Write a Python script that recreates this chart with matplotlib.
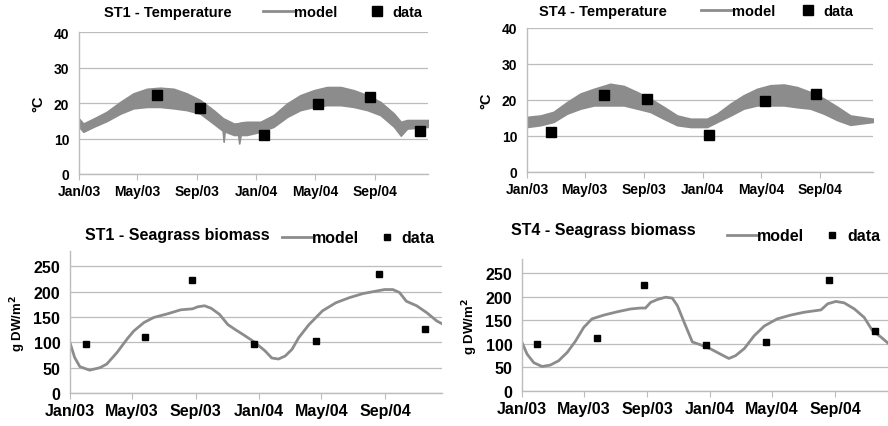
import numpy as np
import pandas as pd
import matplotlib
matplotlib.use('Agg')
import matplotlib.pyplot as plt
import matplotlib.dates as mdates
from matplotlib.lines import Line2D

plt.rcParams['font.family'] = ['Liberation Sans', 'DejaVu Sans']
plt.rcParams['font.weight'] = 'bold'

START = pd.Timestamp('2003-01-01')
END = pd.Timestamp('2004-12-20')
TICKS = ['2003-01-01', '2003-05-01', '2003-09-01', '2004-01-01', '2004-05-01', '2004-09-01']

# --- temperature model, daily band (days since 2003-01-01, lower / upper envelope, degC)
st1_temp_days = [0, 9, 30, 57, 85, 112, 140, 167, 195, 222, 250, 277, 296, 298, 300, 319,
                 328, 330, 333, 346, 374, 401, 429, 456, 484, 511, 539, 566, 594, 621, 649,
                 663, 676, 720]
st1_temp_low = [13.3, 11.9, 13.3, 14.9, 17.0, 18.5, 18.9, 18.9, 18.5, 18.0, 17.0, 14.2, 12.2,
                9.1, 12.0, 11.0, 11.0, 8.6, 11.0, 11.0, 11.9, 13.3, 16.1, 18.0, 18.9, 19.4,
                19.4, 18.9, 18.0, 16.6, 13.3, 10.8, 12.8, 13.3]
st1_temp_high = [15.6, 14.2, 15.6, 17.5, 20.3, 22.7, 24.0, 24.3, 24.0, 22.7, 20.8, 18.0, 15.8,
                 15.6, 15.5, 14.2, 14.3, 14.4, 14.5, 14.7, 14.7, 16.6, 19.9, 22.2, 23.6, 24.5,
                 24.5, 23.6, 22.2, 20.3, 17.0, 14.7, 15.2, 15.2]

st4_temp_days = [0, 28, 55, 83, 111, 139, 173, 201, 229, 256, 284, 312, 340, 374, 395, 423,
                 450, 478, 506, 534, 561, 589, 617, 645, 672, 719]
st4_temp_low = [12.5, 13.0, 13.9, 16.2, 17.6, 18.5, 18.5, 18.5, 17.6, 16.7, 14.8, 13.0, 12.5,
                12.5, 13.9, 15.7, 17.6, 18.5, 18.5, 18.5, 18.0, 17.6, 16.2, 14.4, 13.1, 13.9]
st4_temp_high = [15.3, 15.7, 16.7, 19.4, 21.8, 23.1, 24.5, 23.9, 22.2, 20.4, 18.1, 15.7, 14.8,
                 14.8, 16.2, 19.0, 21.3, 23.1, 24.1, 24.3, 23.6, 22.2, 20.4, 18.1, 15.7, 14.8]

# --- temperature observations
st1_temp_obs_dates = ['2003-06-10', '2003-09-07', '2004-01-17', '2004-05-07', '2004-08-22', '2004-12-04']
st1_temp_obs = [22.3, 18.7, 10.9, 19.6, 21.8, 12.2]
st4_temp_obs_dates = ['2003-02-20', '2003-06-09', '2003-09-08', '2004-01-14', '2004-05-10', '2004-08-23']
st4_temp_obs = [11.2, 21.5, 20.4, 10.2, 19.6, 21.6]

# --- seagrass biomass model (days since 2003-01-01, g DW/m2)
st1_bio_days = [0, 9, 19, 38, 58, 71, 91, 110, 123, 143, 162, 188, 214, 237, 247, 260, 273,
                289, 305, 318, 338, 357, 377, 390, 403, 416, 429, 442, 462, 488, 514, 540,
                566, 592, 608, 624, 637, 650, 670, 690, 709, 722]
st1_bio = [99, 70, 52, 45, 50, 57, 80, 106, 122, 139, 149, 156, 164, 166, 170, 172, 167, 155,
           135, 126, 113, 100, 83, 69, 67, 73, 86, 109, 135, 162, 178, 188, 196, 201, 204,
           204, 198, 181, 172, 158, 142, 135]
st4_bio_days = [0, 10, 23, 39, 55, 71, 88, 104, 120, 136, 159, 185, 211, 230, 240, 250, 263,
                279, 292, 302, 315, 331, 347, 367, 386, 402, 415, 432, 451, 471, 496, 522,
                548, 581, 594, 610, 626, 646, 665, 681, 698, 714]
st4_bio = [103, 78, 60, 52, 55, 64, 82, 106, 135, 153, 161, 168, 174, 176, 176, 188, 194, 199,
           197, 181, 146, 104, 98, 89, 78, 69, 75, 90, 117, 138, 153, 161, 167, 172, 185, 190,
           187, 174, 156, 128, 114, 99]

# --- biomass observations
st1_bio_obs_dates = ['2003-01-31', '2003-05-25', '2003-08-25', '2003-12-23', '2004-04-20', '2004-08-20', '2004-11-18']
st1_bio_obs = [97, 111, 223, 97, 103, 235, 126]
st4_bio_obs_dates = ['2003-01-31', '2003-05-27', '2003-08-26', '2003-12-25', '2004-04-20', '2004-08-20', '2004-11-16']
st4_bio_obs = [100, 113, 224, 97, 104, 236, 128]

MODEL_C = '#8c8c8c'
GRID_C = '#bcbcbc'


def to_dates(days):
    return START + pd.to_timedelta(days, unit='D')


def style_axis(ax, ymax, yticks, fs):
    ax.set_xlim(START, END)
    ax.set_ylim(0, ymax)
    ax.set_yticks(yticks)
    ax.set_xticks(pd.to_datetime(TICKS))
    ax.xaxis.set_major_formatter(mdates.DateFormatter('%b/%y'))
    for s in ['top', 'right']:
        ax.spines[s].set_visible(False)
    for s in ['left', 'bottom']:
        ax.spines[s].set_color(GRID_C)
        ax.spines[s].set_linewidth(1.0)
    ax.tick_params(axis='y', length=0, pad=7, labelsize=fs)
    ax.tick_params(axis='x', length=4, color=GRID_C, pad=3, labelsize=fs)
    ax.grid(axis='y', color=GRID_C, lw=0.9)
    ax.set_axisbelow(True)
    ax.patch.set_alpha(0)
    for lab in ax.get_xticklabels() + ax.get_yticklabels():
        lab.set_fontweight('bold')


def add_legend(fig, x, y, fs, ms, hl, spacing):
    handles = [Line2D([], [], color=MODEL_C, lw=2),
               Line2D([], [], marker='s', ls='none', color='black', markersize=ms)]
    fig.legend(handles, ['model', 'data'], loc='center left',
               bbox_to_anchor=(x / 888, 1 - y / 427), ncol=2, frameon=False,
               borderpad=0, borderaxespad=0, handlelength=hl, handletextpad=0.0,
               columnspacing=spacing, prop={'size': fs, 'weight': 'bold'})


fig = plt.figure(figsize=(8.88, 4.27), dpi=100)

ax1 = fig.add_axes([79 / 888, 1 - 175 / 427, 349 / 888, 142 / 427])
ax2 = fig.add_axes([527 / 888, 1 - 173 / 427, 346 / 888, 144 / 427])
ax3 = fig.add_axes([70 / 888, 1 - 394 / 427, 372 / 888, 142 / 427])
ax4 = fig.add_axes([522 / 888, 1 - 392 / 427, 370 / 888, 132 / 427])

# temperature panels
for ax, d, lo, hi, od, ov in [
        (ax1, st1_temp_days, st1_temp_low, st1_temp_high, st1_temp_obs_dates, st1_temp_obs),
        (ax2, st4_temp_days, st4_temp_low, st4_temp_high, st4_temp_obs_dates, st4_temp_obs)]:
    x = to_dates(d)
    ax.fill_between(x, lo, hi, color=MODEL_C, lw=1.2, edgecolor=MODEL_C, zorder=2)
    ax.plot(pd.to_datetime(od), ov, 's', color='black', markersize=7.5, zorder=3)
    style_axis(ax, 40, [0, 10, 20, 30, 40], 10)
    ax.set_ylabel('°C', fontsize=10.5, fontweight='bold', labelpad=6)

# biomass panels
for ax, d, v, od, ov in [
        (ax3, st1_bio_days, st1_bio, st1_bio_obs_dates, st1_bio_obs),
        (ax4, st4_bio_days, st4_bio, st4_bio_obs_dates, st4_bio_obs)]:
    ax.plot(to_dates(d), v, color=MODEL_C, lw=2.0, zorder=2)
    ax.plot(pd.to_datetime(od), ov, 's', color='black', markersize=5, zorder=3)
    style_axis(ax, 280, [0, 50, 100, 150, 200, 250], 11.5)
    ax.set_ylabel('g DW/m$^\\mathbf{2}$', fontsize=9.5, fontweight='bold', labelpad=4)

fig.text(168 / 888, 1 - 13 / 427, 'ST1 - Temperature', ha='center', va='center', fontsize=10.5, fontweight='bold')
fig.text(603 / 888, 1 - 12 / 427, 'ST4 - Temperature', ha='center', va='center', fontsize=10.5, fontweight='bold')
fig.text(177 / 888, 1 - 236 / 427, 'ST1 - Seagrass biomass', ha='center', va='center', fontsize=11.5, fontweight='bold')
fig.text(603 / 888, 1 - 231 / 427, 'ST4 - Seagrass biomass', ha='center', va='center', fontsize=11.5, fontweight='bold')

add_legend(fig, 263, 13, 10.5, 6.5, 2.1, 1.7)
add_legend(fig, 701, 12, 10.5, 6.5, 2.1, 1.2)
add_legend(fig, 282, 239, 11.5, 4.5, 1.9, 0.75)
add_legend(fig, 727, 237, 11.5, 4.5, 1.9, 0.8)

fig.savefig('out.png', dpi=100)
